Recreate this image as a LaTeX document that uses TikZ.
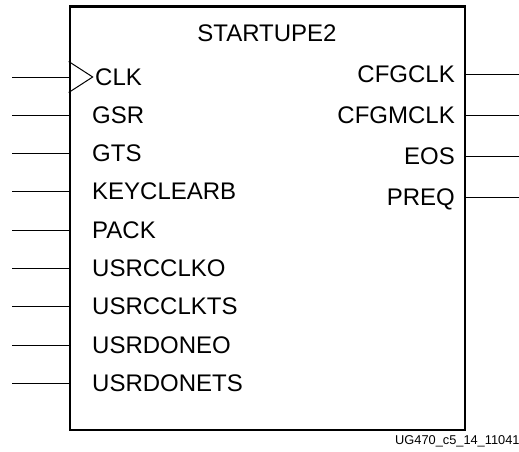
\documentclass[tikz,border=0pt]{standalone}
\usepackage{fontspec}
\setmainfont{Liberation Sans}
\usetikzlibrary{positioning}
\tikzset{
  pinlbl/.style={inner sep=0pt, text height=17.2pt, text depth=0pt, font=\fontsize{24}{28}\selectfont},
  wire/.style={line width=1pt},
}
\begin{document}
\begin{tikzpicture}[x=1pt,y=-1pt]
        \useasboundingbox (0,0) rectangle (519,452);
        \node[draw, line width=2.6pt, inner sep=0pt, minimum width=395pt, minimum height=423.5pt] (blk) at (267.5,218.25) {};
        \node[pinlbl] (title) at (267,33) {STARTUPE2};
        % inputs
        \node[pinlbl, anchor=west] (clk) at (95,77) {CLK};
        \node[pinlbl, anchor=west] (gsr) at (92,115) {GSR};
        \node[pinlbl, anchor=west] (gts) at (92,153) {GTS};
        \node[pinlbl, anchor=west] (keyclearb) at (92,191) {KEYCLEARB};
        \node[pinlbl, anchor=west] (pack) at (92,230) {PACK};
        \node[pinlbl, anchor=west] (usrcclko) at (92,268) {USRCCLKO};
        \node[pinlbl, anchor=west] (usrcclkts) at (92,306) {USRCCLKTS};
        \node[pinlbl, anchor=west] (usrdoneo) at (92,345) {USRDONEO};
        \node[pinlbl, anchor=west] (usrdonets) at (92,383) {USRDONETS};
        \coordinate (clkin) at (12,77);
        \coordinate (gsrin) at (12,115);
        \coordinate (gtsin) at (12,153);
        \coordinate (keyclearbin) at (12,191);
        \coordinate (packin) at (12,230);
        \coordinate (usrcclkoin) at (12,268);
        \coordinate (usrcclktsin) at (12,306);
        \coordinate (usrdoneoin) at (12,345);
        \coordinate (usrdonetsin) at (12,383);
        \draw[wire] (clkin) -- (clkin -| blk.west);
        \draw[wire] (gsrin) -- (gsrin -| blk.west);
        \draw[wire] (gtsin) -- (gtsin -| blk.west);
        \draw[wire] (keyclearbin) -- (keyclearbin -| blk.west);
        \draw[wire] (packin) -- (packin -| blk.west);
        \draw[wire] (usrcclkoin) -- (usrcclkoin -| blk.west);
        \draw[wire] (usrcclktsin) -- (usrcclktsin -| blk.west);
        \draw[wire] (usrdoneoin) -- (usrdoneoin -| blk.west);
        \draw[wire] (usrdonetsin) -- (usrdonetsin -| blk.west);
        % clock mark
        \draw[wire] (clkin -| blk.west) ++(0,-15.5) -- ++(24,15.5) -- ++(-24,15.5);
        % outputs
        \node[pinlbl, anchor=east] (cfgclk) at (455,74) {CFGCLK};
        \node[pinlbl, anchor=east] (cfgmclk) at (455,115) {CFGMCLK};
        \node[pinlbl, anchor=east] (eos) at (455,156) {EOS};
        \node[pinlbl, anchor=east] (preq) at (455,197) {PREQ};
        \coordinate (cfgclkout) at (519,74);
        \coordinate (cfgmclkout) at (519,115);
        \coordinate (eosout) at (519,156);
        \coordinate (preqout) at (519,197);
        \draw[wire] (cfgclkout -| blk.east) -- (cfgclkout);
        \draw[wire] (cfgmclkout -| blk.east) -- (cfgmclkout);
        \draw[wire] (eosout -| blk.east) -- (eosout);
        \draw[wire] (preqout -| blk.east) -- (preqout);
        \node[inner sep=0pt, anchor=west, text height=9.2pt, text depth=0pt, font=\fontsize{12.8}{15}\selectfont] (docid) at (395,440) {UG470\_c5\_14\_110411};
    \end{tikzpicture}
\end{document}
